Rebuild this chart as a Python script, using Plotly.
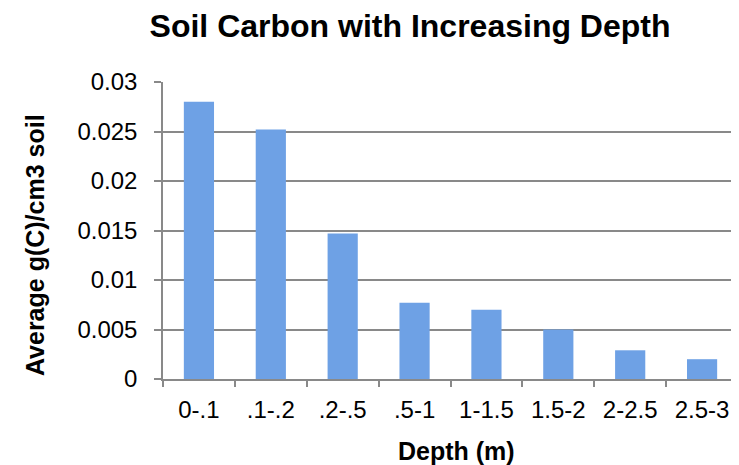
import plotly.graph_objects as go

categories = ["0-.1", ".1-.2", ".2-.5", ".5-1", "1-1.5", "1.5-2", "2-2.5", "2.5-3"]
carbon = [0.028, 0.0252, 0.0147, 0.0077, 0.0070, 0.0050, 0.0029, 0.0020]
y_ticks = [0, 0.005, 0.01, 0.015, 0.02, 0.025, 0.03]
y_tick_labels = ["0", "0.005", "0.01", "0.015", "0.02", "0.025", "0.03"]

fig = go.Figure()
fig.add_trace(go.Bar(
    x=categories, y=carbon,
    marker=dict(color="#6ea1e5", line=dict(width=0)),
    width=0.42,
))

fig.update_layout(
    width=731, height=457,
    margin=dict(l=155, r=1, t=74, b=86),
    paper_bgcolor="white", plot_bgcolor="white",
    font=dict(family="Liberation Sans, Arial, sans-serif", color="black"),
    title=dict(text="<b>Soil Carbon with Increasing Depth</b>", x=0.55, xanchor="center",
               y=0.961, yanchor="middle", font=dict(size=32, color="black")),
    showlegend=False,
    annotations=[
        dict(text="<b>Depth (m)</b>", xref="paper", yref="paper", x=0.51, y=-0.2424,
             xanchor="center", yanchor="middle", showarrow=False, font=dict(size=25)),
        dict(text="<b>Average g(C)/cm3 soil</b>", xref="paper", yref="paper", x=0, y=0.451,
             xshift=-128, xanchor="center", yanchor="middle", textangle=-90,
             showarrow=False, font=dict(size=25)),
    ],
)
fig.update_xaxes(
    type="category",
    showline=True, linecolor="#898989", linewidth=1.5,
    ticks="outside", tickson="boundaries", ticklen=6, tickcolor="#898989", tickwidth=1.5,
    tickfont=dict(size=24), ticklabelstandoff=8,
    showgrid=False,
)
fig.update_yaxes(
    range=[0, 0.03],
    tickvals=y_ticks, ticktext=y_tick_labels,
    showline=True, linecolor="#898989", linewidth=1.5,
    ticks="outside", ticklen=7, tickcolor="#898989", tickwidth=1.5,
    showgrid=True, gridcolor="#898989", gridwidth=1.5,
    tickfont=dict(size=24), ticklabelstandoff=12,
    zeroline=False,
)

fig.write_html("out.html")
